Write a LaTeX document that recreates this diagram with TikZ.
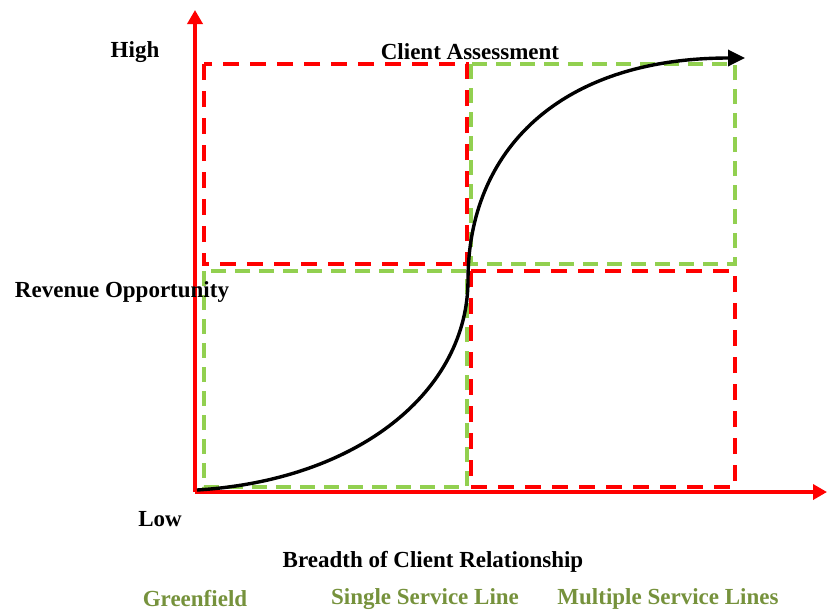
\documentclass[tikz,border=0pt]{standalone}
\usepackage{fontspec}
\setmainfont{Liberation Serif}
\usetikzlibrary{arrows.meta}
\definecolor{axred}{RGB}{255,0,0}
\definecolor{qgreen}{RGB}{146,208,80}
\definecolor{lblgreen}{RGB}{118,146,60}
\begin{document}
\begin{tikzpicture}[x=1pt,y=-1pt,
  lbl/.style={font=\bfseries\fontsize{23}{26}\selectfont, inner sep=0pt},
  glbl/.style={lbl, text=lblgreen},
  reddash/.style={draw=axred, line width=3.6pt, dash pattern=on 16pt off 11pt},
  greendash/.style={draw=qgreen, line width=3.6pt, dash pattern=on 15pt off 9pt},
  axis/.style={draw=axred, line width=4pt, -{Triangle[length=14pt,width=15pt]}}]
\useasboundingbox (0,0) rectangle (827,611);
% quadrant boxes
\draw[reddash] (204,64) rectangle (467,264);
\draw[greendash] (471,64) rectangle (735,264);
\draw[greendash] (204,271) rectangle (467,487);
\draw[reddash] (471,271) rectangle (735,487);
% axes
\coordinate (o) at (195,492);
\coordinate (ytop) at (195,10);
\coordinate (xend) at (827,492);
\draw[axis] (o) -- (ytop);
\draw[axis] (o) -- (xend);
% curve
\coordinate (c0) at (197,490);
\coordinate (cm) at (468,280);
\coordinate (c1) at (745,58);
\draw[line width=3.4pt, -{Triangle[length=17pt,width=16pt]}] (c0) .. controls (360,480) and (468,390) .. (cm)
  .. controls (468,150) and (560,58) .. (c1);
% labels
\node[lbl] (high) at (135,52) {High};
\node[lbl] (title) at (470,52) {Client Assessment};
\node[lbl] (rev) at (122,292) {Revenue Opportunity};
\node[lbl] (low) at (160,519) {Low};
\node[lbl] (xlab) at (433,562) {Breadth of Client Relationship};
\node[glbl] (g1) at (195,599) {Greenfield};
\node[glbl] (g2) at (425,599) {Single Service Line};
\node[glbl] (g3) at (668,599) {Multiple Service Lines};
\end{tikzpicture}
\end{document}
